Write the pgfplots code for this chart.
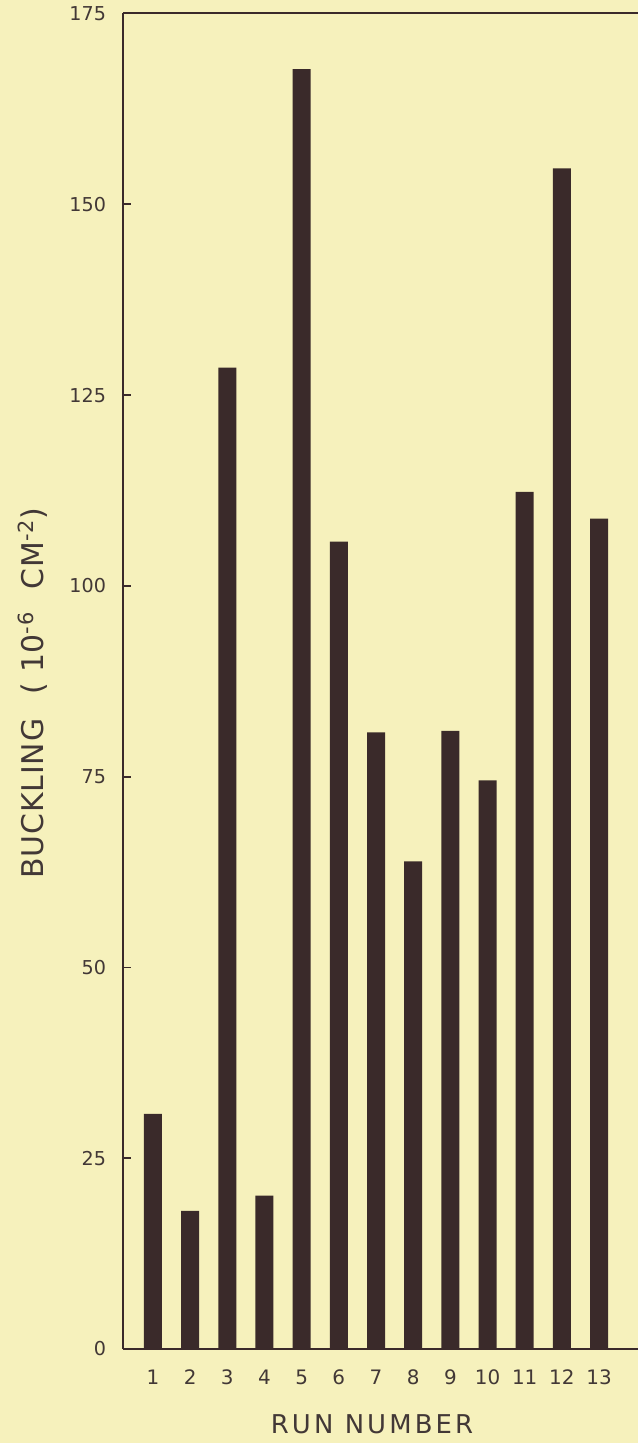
\documentclass[border=0pt]{standalone}
\usepackage{xcolor}
\usepackage{fontspec}
\setmainfont{DejaVu Sans}
\newfontfamily\xlabfont[LetterSpace=12]{DejaVu Sans}
\newfontfamily\ylabfont[LetterSpace=3]{DejaVu Sans}
\usepackage{pgfplots}
\pgfplotsset{compat=1.18}
\definecolor{bg}{RGB}{246,241,188}
\definecolor{barc}{RGB}{58,42,42}
\definecolor{txt}{RGB}{66,56,54}
\pagecolor{bg}
\begin{document}
\begin{tikzpicture}
\begin{axis}[
  scale only axis,
  width=257.5bp, height=667.75bp,
  xmin=0.195, xmax=14.047,
  ymin=0, ymax=175,
  axis x line*=box,
  axis y line*=left,
  axis line style={draw=barc, line width=1bp},
  ytick={0,25,...,175},
  tick align=inside,
  major tick length=4bp,
  y tick style={draw=barc, line width=0.9bp},
  x tick style={draw=none},
  xtick={1,...,13},
  xticklabels={1,2,3,4,5,6,7,8,9,10,11,12,13},
  /pgf/number format/assume math mode=true,
  yticklabel style={font=\fontsize{9.6}{11}\selectfont, text=txt, xshift=-5bp},
  xticklabel style={font=\fontsize{10}{12}\selectfont, text=txt, yshift=-7bp},
  xlabel={RUN NUMBER},
  xlabel style={at={(axis description cs:0.4835,-0.0565)}, anchor=center, font=\fontsize{13}{15}\xlabfont, text=txt},
  ylabel={BUCKLING\hspace{12bp}(\hspace{5bp}10\textsuperscript{-6}\hspace{11bp}CM\textsuperscript{-2})},
  ylabel style={at={(axis description cs:-0.1757,0.491)}, anchor=center, font=\fontsize{15}{17}\ylabfont, text=txt},
  clip=false,
]
\addplot[ybar, bar width=9bp, fill=barc, draw=none] coordinates {
 (1,30.8) (2,18.1) (3,128.6) (4,20.1) (5,167.7) (6,105.8) (7,80.8)
 (8,63.9) (9,81.0) (10,74.5) (11,112.3) (12,154.7) (13,108.8)
};
\coordinate (bl) at (rel axis cs:0,0);
\coordinate (tr) at (rel axis cs:1,1);
\end{axis}
\pgfresetboundingbox
\path[use as bounding box] ([xshift=-61.5bp,yshift=-47bp]bl) rectangle ([yshift=6.75bp]tr);
\end{tikzpicture}
\end{document}
